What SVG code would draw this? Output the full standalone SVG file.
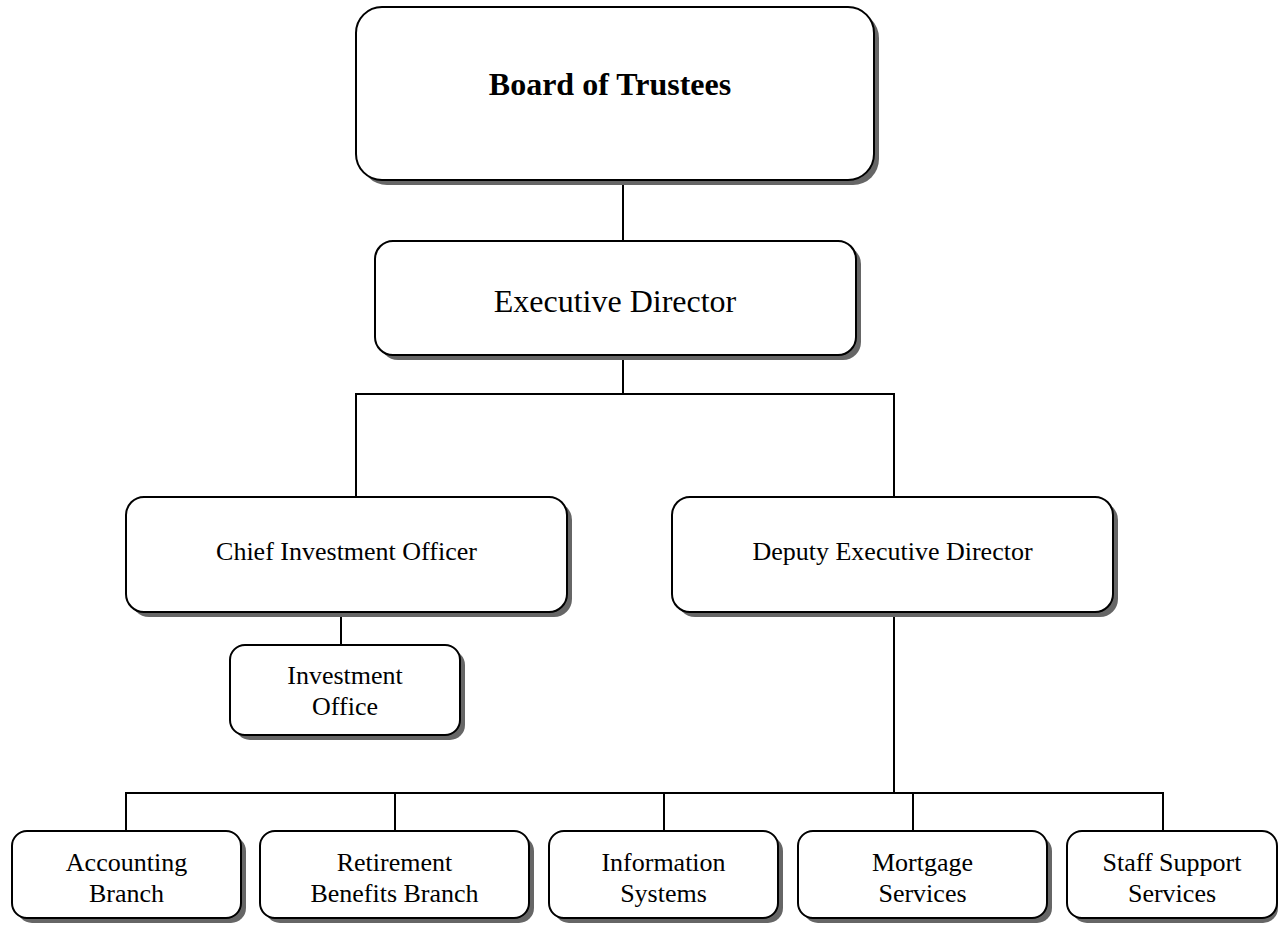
<svg xmlns="http://www.w3.org/2000/svg" width="1282" height="926" viewBox="0 0 1282 926">
<defs>
<style>
.shadow{fill:#666666;stroke:none}
.box{fill:#ffffff;stroke:#000000;stroke-width:2}
.conn line{stroke:#000000;stroke-width:2}
text{font-family:"Liberation Serif","Times New Roman",serif;fill:#000000;text-anchor:middle}
.t26{font-size:26px}
.t32{font-size:32px}
.bold{font-weight:bold}
</style>
</defs>
<rect width="1282" height="926" fill="#ffffff"/>
<g id="connectors" class="conn">
<line x1="623" y1="180" x2="623" y2="241"/>
<line x1="623" y1="355" x2="623" y2="394"/>
<line x1="355" y1="394" x2="895" y2="394"/>
<line x1="356" y1="394" x2="356" y2="497"/>
<line x1="894" y1="394" x2="894" y2="497"/>
<line x1="341" y1="612" x2="341" y2="645"/>
<line x1="894" y1="612" x2="894" y2="793"/>
<line x1="125" y1="793" x2="1164" y2="793"/>
<line x1="126" y1="793" x2="126" y2="831"/>
<line x1="395" y1="793" x2="395" y2="831"/>
<line x1="664" y1="793" x2="664" y2="831"/>
<line x1="913" y1="793" x2="913" y2="831"/>
<line x1="1163" y1="793" x2="1163" y2="831"/>
</g>
<g id="board">
<rect class="shadow" x="361" y="12" width="518" height="173" rx="26"/>
<rect class="box" x="356" y="7" width="518" height="173" rx="26"/>
<text class="t32 bold" x="610" y="95">Board of Trustees</text>
</g>
<g id="exec">
<rect class="shadow" x="380" y="246" width="481" height="114" rx="18"/>
<rect class="box" x="375" y="241" width="481" height="114" rx="18"/>
<text class="t32" x="615" y="312">Executive Director</text>
</g>
<g id="cio">
<rect class="shadow" x="131" y="502" width="441" height="115" rx="18"/>
<rect class="box" x="126" y="497" width="441" height="115" rx="18"/>
<text class="t26" x="346.5" y="560">Chief Investment Officer</text>
</g>
<g id="ded">
<rect class="shadow" x="677" y="502" width="441" height="115" rx="18"/>
<rect class="box" x="672" y="497" width="441" height="115" rx="18"/>
<text class="t26" x="892.5" y="560">Deputy Executive Director</text>
</g>
<g id="invoffice">
<rect class="shadow" x="235" y="650" width="230" height="90" rx="15"/>
<rect class="box" x="230" y="645" width="230" height="90" rx="15"/>
<text class="t26" x="345" y="684">Investment</text>
<text class="t26" x="345" y="715">Office</text>
</g>
<g id="accounting">
<rect class="shadow" x="17" y="836" width="229" height="87" rx="15"/>
<rect class="box" x="12" y="831" width="229" height="87" rx="15"/>
<text class="t26" x="126.5" y="871">Accounting</text>
<text class="t26" x="126.5" y="902">Branch</text>
</g>
<g id="retirement">
<rect class="shadow" x="265" y="836" width="269" height="87" rx="15"/>
<rect class="box" x="260" y="831" width="269" height="87" rx="15"/>
<text class="t26" x="394.5" y="871">Retirement</text>
<text class="t26" x="394.5" y="902">Benefits Branch</text>
</g>
<g id="infosys">
<rect class="shadow" x="554" y="836" width="229" height="87" rx="15"/>
<rect class="box" x="549" y="831" width="229" height="87" rx="15"/>
<text class="t26" x="663.5" y="871">Information</text>
<text class="t26" x="663.5" y="902">Systems</text>
</g>
<g id="mortgage">
<rect class="shadow" x="803" y="836" width="249" height="87" rx="15"/>
<rect class="box" x="798" y="831" width="249" height="87" rx="15"/>
<text class="t26" x="922.5" y="871">Mortgage</text>
<text class="t26" x="922.5" y="902">Services</text>
</g>
<g id="staff">
<rect class="shadow" x="1072" y="836" width="206" height="87" rx="15"/>
<rect class="box" x="1067" y="831" width="210" height="87" rx="15"/>
<text class="t26" x="1172" y="871">Staff Support</text>
<text class="t26" x="1172" y="902">Services</text>
</g>
</svg>
